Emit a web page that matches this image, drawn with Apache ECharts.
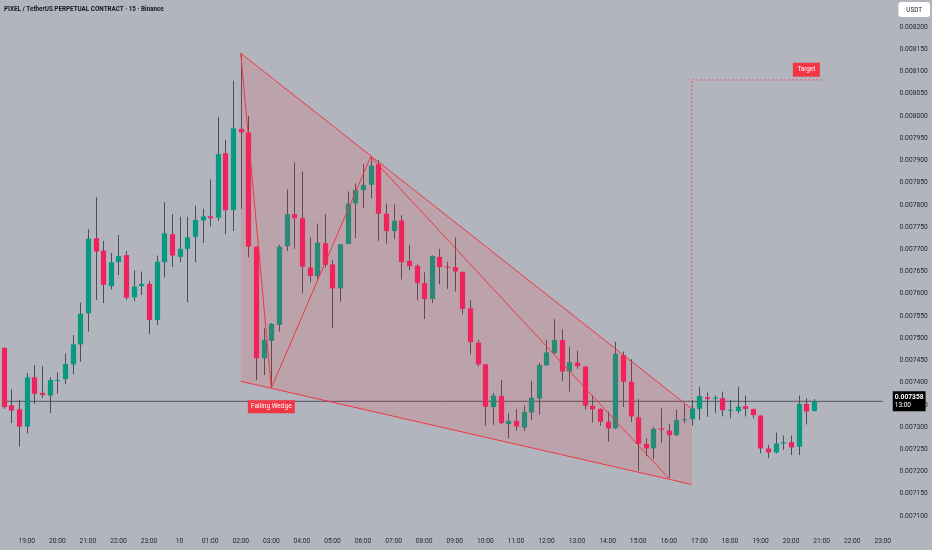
<!DOCTYPE html>
<html>
<head>
<meta charset="utf-8">
<script src="https://cdn.jsdelivr.net/npm/echarts@6/dist/echarts.min.js"></script>
<style>
  html, body { margin: 0; padding: 0; background: #b2b5be; }
  #chart { width: 932px; height: 550px; }
</style>
</head>
<body>
<div id="chart"></div>
<script>
// ---- time slots (15-minute bars) ----
const startMinutes = 18 * 60 + 15;   // first bar 18:15
const slotCount = 116;               // up to 23:00 next day
const categories = [];
for (let k = 0; k < slotCount; k++) {
  const m = (startMinutes + k * 15) % 1440;
  categories.push(String(Math.floor(m / 60)).padStart(2, '0') + ':' + String(m % 60).padStart(2, '0'));
}
const dayLabel = '10';

// ---- OHLC values ----
const openP = [
  0.007478,0.007349,0.007340,0.007301,0.007412,0.007377,0.007371,0.007404,0.007408,0.007441,
  0.007486,0.007556,0.007725,0.007697,0.007617,0.007671,0.007687,0.007592,0.007617,0.007622,
  0.007541,0.007671,0.007734,0.007683,0.007701,0.007728,0.007765,0.007774,0.007771,0.007916,
  0.007788,0.007971,0.007963,0.007706,0.007455,0.007494,0.007530,0.007707,0.007779,0.007770,
  0.007659,0.007640,0.007714,0.007666,0.007612,0.007712,0.007803,0.007833,0.007845,0.007891,
  0.007780,0.007741,0.007765,0.007674,0.007663,0.007624,0.007588,0.007683,0.007661,0.007660,
  0.007649,0.007567,0.007490,0.007441,0.007345,0.007370,0.007307,0.007314,0.007299,0.007333,
  0.007364,0.007439,0.007466,0.007496,0.007425,0.007445,0.007436,0.007348,0.007341,0.007312,
  0.007297,0.007462,0.007402,0.007322,0.007262,0.007252,0.007297,0.007292,0.007282,0.007316,
  0.007318,0.007341,0.007367,0.007365,0.007365,0.007339,0.007336,0.007347,0.007341,0.007326,
  0.007252,0.007243,0.007263,0.007266,0.007256,0.007352,0.007336
];
const highP = [
  0.007480,0.007385,0.007361,0.007422,0.007440,0.007437,0.007412,0.007423,0.007466,0.007507,
  0.007580,0.007745,0.007817,0.007719,0.007692,0.007732,0.007696,0.007653,0.007650,0.007629,
  0.007686,0.007806,0.007779,0.007773,0.007773,0.007798,0.007791,0.007857,0.007998,0.007946,
  0.008079,0.008141,0.008000,0.007706,0.007522,0.007534,0.007710,0.007835,0.007896,0.007875,
  0.007727,0.007758,0.007779,0.007676,0.007712,0.007830,0.007848,0.007892,0.007908,0.007901,
  0.007803,0.007801,0.007777,0.007710,0.007666,0.007648,0.007686,0.007701,0.007672,0.007727,
  0.007650,0.007585,0.007496,0.007442,0.007377,0.007406,0.007331,0.007340,0.007348,0.007404,
  0.007445,0.007496,0.007543,0.007520,0.007481,0.007472,0.007437,0.007372,0.007342,0.007335,
  0.007492,0.007470,0.007453,0.007363,0.007275,0.007300,0.007342,0.007307,0.007339,0.007352,
  0.007361,0.007391,0.007378,0.007371,0.007380,0.007361,0.007391,0.007371,0.007341,0.007326,
  0.007260,0.007288,0.007281,0.007281,0.007371,0.007365,0.007363
];
const lowP = [
  0.007341,0.007309,0.007256,0.007286,0.007352,0.007365,0.007332,0.007375,0.007397,0.007419,
  0.007447,0.007515,0.007586,0.007579,0.007610,0.007642,0.007586,0.007584,0.007597,0.007509,
  0.007530,0.007637,0.007660,0.007671,0.007581,0.007671,0.007714,0.007751,0.007764,0.007734,
  0.007741,0.007791,0.007682,0.007406,0.007417,0.007388,0.007515,0.007696,0.007701,0.007601,
  0.007626,0.007632,0.007659,0.007522,0.007582,0.007711,0.007725,0.007792,0.007815,0.007719,
  0.007713,0.007723,0.007632,0.007653,0.007585,0.007543,0.007579,0.007621,0.007611,0.007605,
  0.007554,0.007464,0.007437,0.007303,0.007305,0.007307,0.007275,0.007292,0.007291,0.007316,
  0.007328,0.007438,0.007465,0.007404,0.007380,0.007431,0.007339,0.007310,0.007303,0.007267,
  0.007295,0.007345,0.007312,0.007202,0.007234,0.007228,0.007265,0.007185,0.007280,0.007309,
  0.007303,0.007316,0.007323,0.007331,0.007324,0.007320,0.007331,0.007324,0.007320,0.007241,
  0.007230,0.007241,0.007249,0.007237,0.007237,0.007306,0.007335
];
const closeP = [
  0.007345,0.007337,0.007301,0.007412,0.007375,0.007372,0.007406,0.007406,0.007442,0.007486,
  0.007555,0.007724,0.007695,0.007620,0.007671,0.007685,0.007591,0.007616,0.007622,0.007541,
  0.007672,0.007736,0.007686,0.007701,0.007727,0.007766,0.007774,0.007770,0.007914,0.007788,
  0.007972,0.007963,0.007706,0.007455,0.007496,0.007532,0.007706,0.007779,0.007770,0.007661,
  0.007640,0.007715,0.007665,0.007612,0.007711,0.007803,0.007833,0.007845,0.007888,0.007780,
  0.007741,0.007764,0.007671,0.007662,0.007624,0.007588,0.007685,0.007660,0.007660,0.007650,
  0.007566,0.007491,0.007441,0.007346,0.007371,0.007309,0.007314,0.007301,0.007334,0.007366,
  0.007440,0.007468,0.007496,0.007425,0.007446,0.007437,0.007348,0.007340,0.007312,0.007297,
  0.007465,0.007402,0.007324,0.007262,0.007252,0.007296,0.007294,0.007282,0.007316,0.007318,
  0.007342,0.007370,0.007363,0.007366,0.007338,0.007339,0.007346,0.007341,0.007327,0.007252,
  0.007243,0.007263,0.007266,0.007254,0.007352,0.007335,0.007358
];

// ---- drawings (bar index, price) ----
const wedgeUpper = [[31, 0.008141], [90, 0.007341]];
const wedgeLower = [[31, 0.007403], [90, 0.007171]];
const wedgeZigzag = [[31, 0.008141], [35, 0.007388], [48, 0.007908], [87, 0.007185]];
const targetPath = [[90, 0.007345], [90, 0.008081], [107, 0.008081]];
const wedgeLabel = { text: 'Falling Wedge', at: [35, 0.007346] };
const targetLabel = { text: 'Target', at: [105, 0.008104] };
const lastPrice = closeP[closeP.length - 1];
const countdown = '13:00';
const titleText = 'PIXEL / TetherUS PERPETUAL CONTRACT · 15 · Binance';
const currency = 'USDT';

// ---- style ----
const UP = '#089981', DOWN = '#f0225e', WICK = '#4a4d57', RED = '#f23645';
const FONT = 'Roboto, "Noto Sans", sans-serif';
const TXT = '#1e222d';

const candleData = openP.map((o, i) => [i, o, closeP[i], lowP[i], highP[i]]);

function renderCandle(params, api) {
  const i = api.value(0), o = api.value(1), c = api.value(2), l = api.value(3), h = api.value(4);
  const pO = api.coord([i, o]), pC = api.coord([i, c]);
  const pL = api.coord([i, l]), pH = api.coord([i, h]);
  const w = api.size([1, 0])[0] * 0.68;
  const x = Math.round(pO[0]) + 0.5;
  const top = Math.min(pO[1], pC[1]);
  const bh = Math.max(Math.abs(pO[1] - pC[1]), 1);
  return {
    type: 'group',
    children: [
      { type: 'line', shape: { x1: x, y1: pH[1], x2: x, y2: pL[1] }, style: { stroke: WICK, lineWidth: 1 } },
      { type: 'rect', shape: { x: x - w / 2, y: top, width: w, height: bh }, style: { fill: c >= o ? UP : DOWN } }
    ]
  };
}

function renderWedgeFill(params, api) {
  const poly = [wedgeUpper[0], wedgeUpper[1], wedgeLower[1], wedgeLower[0]].map(p => api.coord(p));
  return { type: 'polygon', shape: { points: poly }, style: { fill: 'rgba(242,54,69,0.15)' } };
}

const chart = echarts.init(document.getElementById('chart'), null, { renderer: 'canvas' });
chart.setOption({
  backgroundColor: '#b2b5be',
  animation: false,
  title: [
    { text: titleText, left: 4, top: 6, padding: 0, textStyle: { fontFamily: FONT, fontSize: 6.3, fontWeight: 'bold', color: '#131722' } },
    { text: currency, right: 2, top: 2, backgroundColor: '#ffffff', borderRadius: 3, padding: [5, 8, 4, 8],
      textStyle: { fontFamily: FONT, fontSize: 6.3, fontWeight: 'normal', color: '#131722' } }
  ],
  grid: { left: -0.8, width: 887.4, top: 4.8, height: 511.2 },
  xAxis: {
    type: 'category',
    data: categories,
    boundaryGap: true,
    axisLine: { show: false },
    axisTick: { show: false },
    splitLine: { show: false },
    axisLabel: {
      interval: (idx, val) => val.endsWith(':00'),
      formatter: val => (val === '00:00' ? dayLabel : val),
      color: TXT, fontFamily: FONT, fontSize: 6.7, margin: 22
    }
  },
  yAxis: {
    type: 'value',
    position: 'right',
    min: 0.0071, max: 0.00825, interval: 0.00005,
    scale: true,
    axisLine: { show: false },
    axisTick: { show: false },
    splitLine: { show: false },
    axisLabel: {
      showMaxLabel: false,
      formatter: v => v.toFixed(6),
      color: TXT, fontFamily: FONT, fontSize: 6.7, margin: 13
    }
  },
  series: [
    {
      type: 'line', name: 'lastPrice', data: [[0, lastPrice], [slotCount - 1, lastPrice]],
      symbol: 'none', z: 1, silent: true, clip: false,
      lineStyle: { color: '#50535e', width: 1 },
      endLabel: {
        show: true,
        distance: 10,
        formatter: () => '{a|' + lastPrice.toFixed(6) + '}\n{b|' + countdown + '}',
        backgroundColor: '#000000', padding: [2, 2, 2, 2],
        rich: {
          a: { color: '#ffffff', fontFamily: FONT, fontSize: 6.7, fontWeight: 'bold', lineHeight: 8 },
          b: { color: '#ffffff', fontFamily: FONT, fontSize: 6.5, lineHeight: 8 }
        }
      }
    },
    {
      type: 'custom', name: 'candles', renderItem: renderCandle, data: candleData,
      encode: { x: 0, y: [1, 2, 3, 4] }, z: 2, silent: true
    },
    {
      type: 'custom', name: 'wedgeFill', renderItem: renderWedgeFill, data: [[31, 0.0075]],
      z: 3, silent: true
    },
    {
      type: 'line', name: 'wedgeUpper', data: wedgeUpper, symbol: 'none', z: 4, silent: true,
      lineStyle: { color: RED, width: 1 }
    },
    {
      type: 'line', name: 'wedgeLower', data: wedgeLower, symbol: 'none', z: 4, silent: true,
      lineStyle: { color: RED, width: 1 },
      markPoint: {
        silent: true,
        data: [{
          coord: wedgeLabel.at, symbol: 'rect', symbolSize: [47, 13],
          itemStyle: { color: RED },
          label: { show: true, position: 'inside', formatter: wedgeLabel.text, color: '#fff', fontFamily: FONT, fontSize: 6.5 }
        }]
      }
    },
    {
      type: 'line', name: 'zigzag', data: wedgeZigzag, symbol: 'none', z: 4, silent: true,
      lineStyle: { color: RED, width: 1 }
    },
    {
      type: 'line', name: 'target', data: targetPath, symbol: 'none', z: 4, silent: true,
      lineStyle: { color: RED, width: 1, type: [1.5, 2.5] },
      markPoint: {
        silent: true,
        data: [{
          coord: targetLabel.at, symbol: 'rect', symbolSize: [27, 14],
          itemStyle: { color: RED },
          label: { show: true, position: 'inside', formatter: targetLabel.text, color: '#fff', fontFamily: FONT, fontSize: 6.3 }
        }]
      }
    }
  ]
});
</script>
</body>
</html>
